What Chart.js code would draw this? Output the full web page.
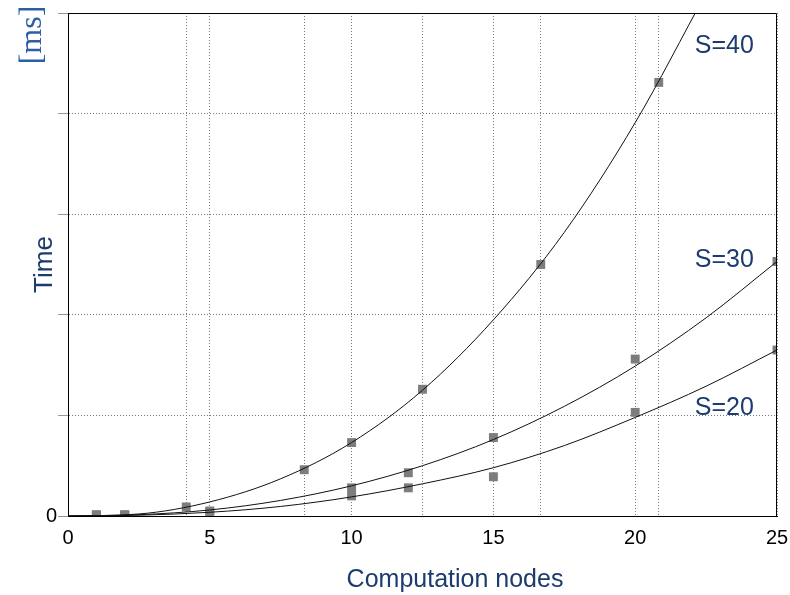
<!DOCTYPE html>
<html>
<head>
<meta charset="utf-8">
<script src="https://cdn.jsdelivr.net/npm/chart.js@4/dist/chart.umd.min.js"></script>
<style>
  html, body { margin: 0; padding: 0; background: #fff; }
  #wrap { width: 790px; height: 595px; }
</style>
</head>
<body>
<div id="wrap"><canvas id="c" width="790" height="595"></canvas></div>
<script>
// Measured run times [ms] per number of computation nodes
const nodesS40 = [1, 2, 4.17, 8.33, 10, 12.5, 16.67, 20.83];
const timeS40  = [0.01, 0.01, 0.09, 0.46, 0.73, 1.26, 2.50, 4.31];
const nodesS30 = [1, 2, 5, 10, 12, 15, 20, 25];
const timeS30  = [0.01, 0.01, 0.05, 0.28, 0.43, 0.78, 1.56, 2.53];
const nodesS20 = [1, 2, 5, 10, 12, 15, 20, 25];
const timeS20  = [0.01, 0.01, 0.04, 0.20, 0.28, 0.39, 1.03, 1.65];

// Trend curves fitted through each series
const fitNodes40 = [0, 2.5, 5, 7.5, 10, 12.5, 15, 17.5, 20, 22.5];
const fitS40     = [0, 0.02, 0.14, 0.37, 0.73, 1.25, 1.95, 2.82, 3.91, 5.2];
const fitNodes   = [0, 2.5, 5, 7.5, 10, 12.5, 15, 17.5, 20, 22.5, 25];
const fitS30     = [0, 0.013, 0.06, 0.155, 0.30, 0.50, 0.76, 1.09, 1.49, 1.97, 2.53];
const fitS20     = [0, 0.008, 0.037, 0.095, 0.19, 0.32, 0.48, 0.70, 0.98, 1.29, 1.65];

// Axis ticks and vertical grid positions
const gridNodes  = [0, 4.17, 5, 8.33, 10, 12.5, 15, 16.67, 20, 20.83, 25];
const nodeLabels = [0, 5, 10, 15, 20, 25];
const timeTicks  = [0, 1, 2, 3, 4, 5];

// Curve labels and their anchor in data units
const seriesNames = ['S=40', 'S=30', 'S=20'];
const nameNodes   = [22.1, 22.1, 22.1];
const nameTimes   = [4.6, 2.475, 1.0];

const pts = (xs, ys) => xs.map((x, i) => ({ x: x, y: ys[i] }));

const NAVY = '#1c3b6e';
const SANS = "'Liberation Sans', Arial, sans-serif";
const SERIF = "'Liberation Serif', 'Times New Roman', serif";

const curve = (data) => ({
  type: 'line', data: data, order: 0,
  borderColor: '#111', borderWidth: 1, pointRadius: 0,
  cubicInterpolationMode: 'monotone', fill: false
});
const marks = (data) => ({
  type: 'scatter', data: data, order: 1, showLine: false,
  pointStyle: 'rect', pointRadius: 6.3, pointHoverRadius: 6.3,
  backgroundColor: '#7d7d7d', borderWidth: 0
});

const frameAndText = {
  id: 'frameAndText',
  afterDraw(chart) {
    const ctx = chart.ctx;
    const a = chart.chartArea;
    const xs = chart.scales.x, ys = chart.scales.y;
    ctx.save();
    // top and right frame
    ctx.strokeStyle = '#000';
    ctx.lineWidth = 1;
    const t = Math.round(a.top) + 0.5, r = Math.round(a.right) - 0.5;
    ctx.beginPath();
    ctx.moveTo(a.left, t); ctx.lineTo(r, t); ctx.lineTo(r, a.bottom);
    ctx.stroke();

    // curve names
    ctx.fillStyle = NAVY;
    ctx.font = '25px ' + SANS;
    ctx.textAlign = 'left';
    ctx.textBaseline = 'alphabetic';
    seriesNames.forEach((s, i) => {
      ctx.fillText(s, xs.getPixelForValue(nameNodes[i]), ys.getPixelForValue(nameTimes[i]));
    });

    // x axis title
    ctx.textAlign = 'center';
    ctx.fillText('Computation nodes', 455, 587);

    // y axis title and unit
    ctx.save();
    ctx.translate(52, (a.top + a.bottom) / 2);
    ctx.rotate(-Math.PI / 2);
    ctx.font = '26px ' + SANS;
    ctx.textAlign = 'center';
    ctx.textBaseline = 'alphabetic';
    ctx.fillText('Time', 0, 0);
    ctx.restore();

    ctx.save();
    ctx.translate(41, 35);
    ctx.rotate(-Math.PI / 2);
    ctx.font = '32px ' + SERIF;
    ctx.fillStyle = '#2d5fa6';
    ctx.textAlign = 'center';
    ctx.textBaseline = 'alphabetic';
    ctx.fillText('[ms]', 0, 0);
    ctx.restore();

    ctx.restore();
  }
};

new Chart(document.getElementById('c'), {
  data: {
    datasets: [
      curve(pts(fitNodes40, fitS40)),
      curve(pts(fitNodes, fitS30)),
      curve(pts(fitNodes, fitS20)),
      marks(pts(nodesS40, timeS40)),
      marks(pts(nodesS30, timeS30)),
      marks(pts(nodesS20, timeS20))
    ]
  },
  options: {
    responsive: false,
    animation: false,
    layout: { padding: { top: 12, right: 13, left: 0, bottom: 0 } },
    plugins: { legend: { display: false }, tooltip: { enabled: false } },
    scales: {
      x: {
        type: 'linear', min: 0, max: 25,
        afterBuildTicks: (s) => { s.ticks = gridNodes.map(v => ({ value: v })); },
        afterFit: (s) => { s.height = 79; s.paddingLeft = 0; s.paddingRight = 0; },
        ticks: {
          autoSkip: false, maxRotation: 0, padding: 10,
          color: '#000', font: { family: SANS, size: 20 },
          callback: (v) => nodeLabels.includes(v) ? String(v) : ''
        },
        grid: { color: '#777', lineWidth: 1, drawTicks: false },
        border: { color: '#000', width: 1, dash: [1, 2] }
      },
      y: {
        type: 'linear', min: 0, max: 5,
        afterBuildTicks: (s) => { s.ticks = timeTicks.map(v => ({ value: v })); },
        afterFit: (s) => { s.width = 68; },
        ticks: {
          padding: 1, color: '#000', font: { family: SANS, size: 20 },
          callback: (v) => v === 0 ? '0' : ''
        },
        grid: { color: '#777', lineWidth: 1, tickLength: 10, tickColor: '#999' },
        border: { color: '#000', width: 1, dash: [1, 2] }
      }
    }
  },
  plugins: [frameAndText]
});
</script>
</body>
</html>
